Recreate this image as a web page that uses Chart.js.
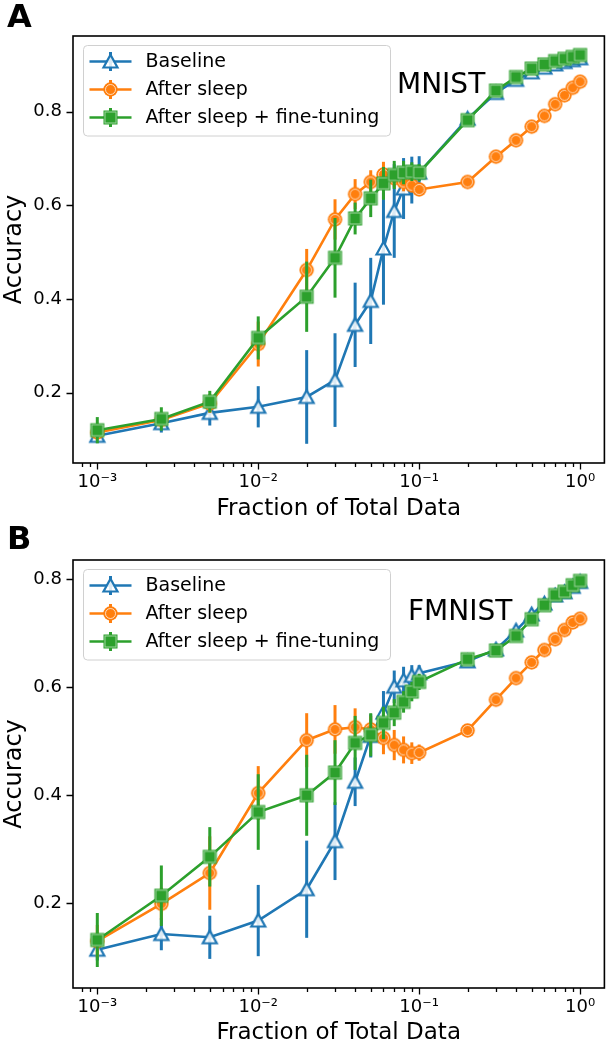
<!DOCTYPE html>
<html>
<head>
<meta charset="utf-8">
<title>Accuracy vs fraction of total data</title>
<script src="https://cdn.jsdelivr.net/npm/chart.js@4"></script>
<style>
  html, body { margin: 0; padding: 0; background: #fff; }
  canvas { display: block; }
</style>
</head>
<body>
<canvas id="chartA" width="614" height="524"></canvas>
<canvas id="chartB" width="614" height="524"></canvas>
<script>
// fraction of the training set used (x positions)
const fractions = [0.001, 0.0025, 0.005, 0.01, 0.02, 0.03, 0.04, 0.05, 0.06, 0.07, 0.08, 0.09,
                   0.1, 0.2, 0.3, 0.4, 0.5, 0.6, 0.7, 0.8, 0.9, 1.0];

const seriesNames = ['Baseline', 'After sleep', 'After sleep + fine-tuning'];

// panel A - MNIST
const mnistBaseline    = [0.108, 0.135, 0.157, 0.170, 0.191, 0.227, 0.345, 0.396, 0.508, 0.588, 0.636, 0.654,
                          0.670, 0.785, 0.840, 0.868, 0.884, 0.894, 0.901, 0.906, 0.910, 0.914];
const mnistBaselineErr = [0.015, 0.020, 0.027, 0.044, 0.100, 0.100, 0.090, 0.092, 0.120, 0.100, 0.065, 0.050,
                          0.035, 0.006, 0.005, 0.004, 0.004, 0.004, 0.003, 0.003, 0.003, 0.003];
const mnistSleep       = [0.115, 0.142, 0.177, 0.304, 0.462, 0.570, 0.624, 0.650, 0.666, 0.658, 0.650, 0.643,
                          0.634, 0.650, 0.704, 0.739, 0.768, 0.791, 0.816, 0.835, 0.851, 0.864];
const mnistSleepErr    = [0.010, 0.015, 0.020, 0.048, 0.045, 0.043, 0.032, 0.025, 0.027, 0.020, 0.020, 0.015,
                          0.012, 0.006, 0.005, 0.005, 0.004, 0.004, 0.004, 0.003, 0.003, 0.003];
const mnistTuned       = [0.120, 0.144, 0.181, 0.317, 0.405, 0.488, 0.572, 0.615, 0.647, 0.665, 0.670, 0.672,
                          0.670, 0.782, 0.845, 0.874, 0.892, 0.901, 0.908, 0.913, 0.917, 0.921];
const mnistTunedErr    = [0.028, 0.025, 0.023, 0.046, 0.075, 0.085, 0.034, 0.040, 0.035, 0.030, 0.025, 0.020,
                          0.018, 0.006, 0.005, 0.004, 0.004, 0.003, 0.003, 0.003, 0.003, 0.003];

// panel B - FMNIST
const fmnistBaseline    = [0.114, 0.143, 0.137, 0.168, 0.226, 0.315, 0.425, 0.510, 0.553, 0.601, 0.613, 0.621,
                           0.626, 0.648, 0.670, 0.705, 0.735, 0.755, 0.770, 0.776, 0.786, 0.795];
const fmnistBaselineErr = [0.020, 0.030, 0.040, 0.066, 0.090, 0.072, 0.045, 0.040, 0.040, 0.030, 0.025, 0.020,
                           0.015, 0.006, 0.005, 0.005, 0.004, 0.004, 0.004, 0.003, 0.003, 0.003];
const fmnistSleep       = [0.130, 0.199, 0.256, 0.404, 0.502, 0.522, 0.526, 0.522, 0.506, 0.493, 0.484, 0.478,
                           0.479, 0.520, 0.577, 0.617, 0.646, 0.669, 0.689, 0.706, 0.720, 0.727];
const fmnistSleepErr    = [0.030, 0.030, 0.068, 0.050, 0.050, 0.045, 0.035, 0.025, 0.030, 0.028, 0.025, 0.020,
                           0.015, 0.006, 0.005, 0.005, 0.004, 0.004, 0.004, 0.003, 0.003, 0.003];
const fmnistTuned       = [0.132, 0.214, 0.286, 0.369, 0.400, 0.442, 0.497, 0.512, 0.534, 0.553, 0.573, 0.592,
                           0.610, 0.652, 0.668, 0.695, 0.726, 0.752, 0.771, 0.777, 0.789, 0.797];
const fmnistTunedErr    = [0.050, 0.056, 0.055, 0.070, 0.075, 0.060, 0.050, 0.040, 0.030, 0.025, 0.020, 0.018,
                           0.015, 0.006, 0.005, 0.005, 0.004, 0.004, 0.004, 0.003, 0.003, 0.003];

// axes
const xTicks = [0.001, 0.01, 0.1, 1];
const xTickLabels = ['10\u207B\u00B3', '10\u207B\u00B2', '10\u207B\u00B9', '10\u2070'];
const xMinorTicks = [0.0008, 0.0009,
  0.002, 0.003, 0.004, 0.005, 0.006, 0.007, 0.008, 0.009,
  0.02, 0.03, 0.04, 0.05, 0.06, 0.07, 0.08, 0.09,
  0.2, 0.3, 0.4, 0.5, 0.6, 0.7, 0.8, 0.9];
const yTicks = [0.2, 0.4, 0.6, 0.8];
const yTickLabels = ['0.2', '0.4', '0.6', '0.8'];

const FONT = '"DejaVu Sans", "Liberation Sans", sans-serif';
const colors = ['#1f77b4', '#ff7f0e', '#2ca02c'];

// matplotlib-like markers drawn once into small canvases
function makeMarker(kind, color) {
  const s = 19, m = s / 2;
  const c = document.createElement('canvas');
  c.width = s; c.height = s;
  const g = c.getContext('2d');
  if (kind === 'triangle') {
    g.beginPath();
    g.moveTo(m, m - 6.8); g.lineTo(m + 7, m + 6); g.lineTo(m - 7, m + 6);
    g.closePath();
    g.fillStyle = 'rgba(255,255,255,0.85)'; g.fill();
    g.lineWidth = 2.2; g.strokeStyle = color; g.stroke();
  } else if (kind === 'circle') {
    g.beginPath(); g.arc(m, m, 7.2, 0, Math.PI * 2);
    g.fillStyle = color; g.fill();
    g.beginPath(); g.arc(m, m, 5, 0, Math.PI * 2);
    g.lineWidth = 1; g.strokeStyle = 'rgba(255,255,255,0.7)'; g.stroke();
  } else {
    g.fillStyle = color; g.fillRect(m - 7, m - 7, 14, 14);
    g.lineWidth = 1; g.strokeStyle = 'rgba(255,255,255,0.55)';
    g.strokeRect(m - 5.5, m - 5.5, 11, 11);
  }
  return c;
}
const markers = [makeMarker('triangle', colors[0]), makeMarker('circle', colors[1]), makeMarker('square', colors[2])];

function buildDatasets(values, errors) {
  return seriesNames.map((name, i) => ({
    label: name,
    data: fractions.map((f, j) => ({x: f, y: values[i][j]})),
    errors: errors[i],
    borderColor: colors[i],
    backgroundColor: colors[i],
    borderWidth: 2.6,
    pointStyle: markers[i],
    pointRadius: 7,
    tension: 0,
    order: 3 - i
  }));
}

// vertical error bars, drawn just under each series' own line and markers
const errorBarPlugin = {
  id: 'errorBars',
  beforeDatasetDraw(chart, args) {
    const ds = chart.data.datasets[args.index];
    const xs = chart.scales.x, ys = chart.scales.y;
    const ctx = chart.ctx;
    ctx.save();
    ctx.strokeStyle = ds.borderColor;
    ctx.lineWidth = 3;
    ds.data.forEach((p, j) => {
      const e = ds.errors[j];
      const px = xs.getPixelForValue(p.x);
      ctx.beginPath();
      ctx.moveTo(px, ys.getPixelForValue(p.y - e));
      ctx.lineTo(px, ys.getPixelForValue(p.y + e));
      ctx.stroke();
    });
    ctx.restore();
  }
};

// axes frame, tick marks, legend and the text labels
const framePlugin = {
  id: 'frame',
  afterDraw(chart, args, opts) {
    const ctx = chart.ctx;
    const a = chart.chartArea;
    const xs = chart.scales.x, ys = chart.scales.y;
    ctx.save();
    ctx.strokeStyle = '#000';
    ctx.lineWidth = 1.3;
    ctx.beginPath();
    xTicks.forEach(v => {
      const px = Math.round(xs.getPixelForValue(v)) + 0.5;
      ctx.moveTo(px, a.bottom); ctx.lineTo(px, a.bottom + 6.5);
    });
    xMinorTicks.forEach(v => {
      const px = Math.round(xs.getPixelForValue(v)) + 0.5;
      ctx.moveTo(px, a.bottom); ctx.lineTo(px, a.bottom + 4);
    });
    yTicks.forEach(v => {
      const py = Math.round(ys.getPixelForValue(v)) + 0.5;
      ctx.moveTo(a.left, py); ctx.lineTo(a.left - 6.5, py);
    });
    ctx.stroke();
    ctx.lineWidth = 1.6;
    ctx.strokeRect(a.left, a.top, a.right - a.left, a.bottom - a.top);

    // legend
    const lx = a.left + 10.5, ly = a.top + 9.5, lw = 307, lh = 90.5;
    ctx.beginPath();
    ctx.roundRect(lx, ly, lw, lh, 4);
    ctx.fillStyle = 'rgba(255,255,255,0.8)';
    ctx.fill();
    ctx.lineWidth = 1;
    ctx.strokeStyle = '#d0d0d0';
    ctx.stroke();
    seriesNames.forEach((name, i) => {
      const cy = ly + 16 + i * 28;
      const hx = lx + 27;
      ctx.strokeStyle = colors[i];
      ctx.lineWidth = 3;
      ctx.beginPath();
      ctx.moveTo(hx, cy - 9.5); ctx.lineTo(hx, cy + 9.5);
      ctx.stroke();
      ctx.lineWidth = 2.6;
      ctx.beginPath();
      ctx.moveTo(lx + 6, cy); ctx.lineTo(lx + 48, cy);
      ctx.stroke();
      ctx.drawImage(markers[i], hx - markers[i].width / 2, cy - markers[i].height / 2);
      ctx.fillStyle = '#000';
      ctx.font = '19px ' + FONT;
      ctx.textBaseline = 'middle';
      ctx.textAlign = 'left';
      ctx.fillText(name, lx + 62, cy + 1);
    });

    // dataset name inside the axes
    ctx.fillStyle = '#000';
    ctx.textBaseline = 'alphabetic';
    ctx.font = '28px ' + FONT;
    ctx.fillText(opts.name, opts.nameX, opts.nameY);

    // panel letter
    ctx.font = 'bold 32px ' + FONT;
    ctx.fillText(opts.letter, 7, opts.letterY);
    ctx.restore();
  }
};

function makeChart(id, values, errors, yMin, yMax, xAxisHeight, panel) {
  return new Chart(document.getElementById(id), {
    type: 'line',
    data: {datasets: buildDatasets(values, errors)},
    plugins: [errorBarPlugin, framePlugin],
    options: {
      responsive: false,
      animation: false,
      layout: {padding: {top: 36, right: 2, left: 0, bottom: 0}},
      plugins: {
        legend: {display: false},
        tooltip: {enabled: false},
        frame: panel
      },
      scales: {
        x: {
          type: 'logarithmic',
          min: Math.pow(10, -3.151),
          max: Math.pow(10, 0.151),
          afterBuildTicks: s => { s.ticks = xTicks.map(v => ({value: v})); },
          afterFit: s => { s.height = xAxisHeight; },
          grid: {display: false, drawTicks: false},
          border: {display: false},
          ticks: {
            autoSkip: false, maxRotation: 0, padding: 9, color: '#000',
            font: {family: FONT, size: 18},
            callback: (v, i) => xTickLabels[i]
          },
          title: {
            display: true, text: 'Fraction of Total Data', color: '#000',
            font: {family: FONT, size: 23, lineHeight: 1},
            padding: {top: 0, bottom: 3}
          }
        },
        y: {
          min: yMin,
          max: yMax,
          afterBuildTicks: s => { s.ticks = yTicks.map(v => ({value: v})); },
          afterFit: s => { s.width = 73; },
          grid: {display: false, drawTicks: false},
          border: {display: false},
          ticks: {
            padding: 11, color: '#000',
            font: {family: FONT, size: 18},
            callback: (v, i) => yTickLabels[i]
          },
          title: {
            display: true, text: 'Accuracy', color: '#000',
            font: {family: FONT, size: 24, lineHeight: 1},
            padding: {top: 3, bottom: 0}
          }
        }
      }
    }
  });
}

makeChart('chartA',
  [mnistBaseline, mnistSleep, mnistTuned],
  [mnistBaselineErr, mnistSleepErr, mnistTunedErr],
  0.05, 0.9616, 61,
  {name: 'MNIST', nameX: 397, nameY: 93, letter: 'A', letterY: 27});

makeChart('chartB',
  [fmnistBaseline, fmnistSleep, fmnistTuned],
  [fmnistBaselineErr, fmnistSleepErr, fmnistTunedErr],
  0.0431, 0.8357, 60,
  {name: 'FMNIST', nameX: 408, nameY: 96, letter: 'B', letterY: 25});
</script>
</body>
</html>
